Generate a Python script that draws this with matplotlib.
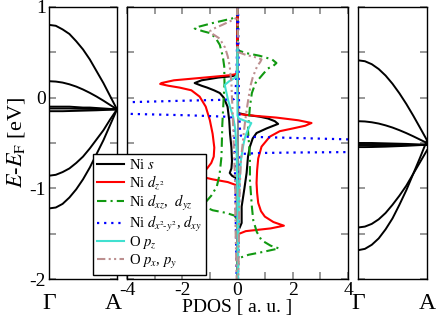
import matplotlib
matplotlib.use("Agg")
import matplotlib.pyplot as plt
import matplotlib.transforms as mtransforms
import numpy as np

plt.rcParams['font.family'] = ['Liberation Serif', 'DejaVu Serif']
plt.rcParams['mathtext.fontset'] = 'stix'
plt.rcParams['axes.unicode_minus'] = False

# ---------------- band data (left panel) ----------------
k_path = [0.0, 0.1, 0.2, 0.3, 0.4, 0.5, 0.6, 0.7, 0.8, 0.9, 1.0]
bands_left = [
    [0.80, 0.79, 0.75, 0.70, 0.62, 0.53, 0.42, 0.29, 0.16, 0.015, -0.13],
    [0.18, 0.176, 0.165, 0.146, 0.121, 0.089, 0.052, 0.011, -0.034, -0.082, -0.13],
    [-0.10, -0.10, -0.10, -0.10, -0.105, -0.11, -0.11, -0.115, -0.12, -0.125, -0.13],
    [-0.12, -0.12, -0.12, -0.12, -0.122, -0.124, -0.125, -0.126, -0.128, -0.129, -0.13],
    [-0.15, -0.15, -0.15, -0.148, -0.146, -0.144, -0.142, -0.14, -0.137, -0.134, -0.13],
    [-0.86, -0.85, -0.82, -0.78, -0.72, -0.65, -0.56, -0.46, -0.36, -0.24, -0.13],
    [-1.22, -1.21, -1.17, -1.10, -1.01, -0.90, -0.77, -0.62, -0.47, -0.30, -0.13],
]
# ---------------- band data (right panel) ----------------
bands_right = [
    [0.41, 0.40, 0.367, 0.314, 0.242, 0.152, 0.047, -0.07, -0.198, -0.333, -0.47],
    [-0.26, -0.263, -0.272, -0.286, -0.306, -0.33, -0.359, -0.391, -0.426, -0.463, -0.50],
    [-0.50, -0.50, -0.50, -0.502, -0.504, -0.506, -0.508, -0.51, -0.513, -0.516, -0.52],
    [-0.52, -0.52, -0.52, -0.52, -0.52, -0.52, -0.52, -0.52, -0.52, -0.52, -0.52],
    [-0.545, -0.545, -0.544, -0.542, -0.54, -0.537, -0.534, -0.531, -0.527, -0.523, -0.52],
    [-1.43, -1.42, -1.39, -1.34, -1.27, -1.18, -1.08, -0.97, -0.84, -0.71, -0.58],
    [-1.68, -1.665, -1.62, -1.55, -1.45, -1.33, -1.18, -1.02, -0.84, -0.66, -0.47],
]
k_labels = ['\u0393', 'A']

# ---------------- PDOS data (middle panel) ----------------
# Ni s
ni_s_dn_E = [1.0, 0.25, 0.235, 0.22, 0.19, 0.16, 0.13, 0.11, 0.08, 0.05, 0.0, -0.1, -0.25, -0.4, -0.55, -0.7, -0.78, -0.83, -0.86, -0.89, -1.0, -2.0]
ni_s_dn = [0, -0.02, -0.2, -0.7, -1.3, -1.55, -1.3, -1.1, -0.85, -0.64, -0.5, -0.36, -0.3, -0.27, -0.22, -0.2, -0.22, -0.28, -0.2, -0.03, -0.01, 0]
ni_s_up_E = [1.0, -0.17, -0.19, -0.21, -0.23, -0.26, -0.29, -0.31, -0.34, -0.39, -0.45, -0.54, -0.65, -0.83, -1.0, -1.2, -1.38, -1.43, -1.47, -2.0]
ni_s_up = [0, 0.02, 0.3, 0.8, 1.1, 1.35, 1.47, 1.3, 1.05, 0.69, 0.55, 0.45, 0.38, 0.33, 0.25, 0.15, 0.15, 0.08, 0.02, 0]
# Ni dz2
ni_dz2_dn_E = [1.0, 0.26, 0.245, 0.22, 0.19, 0.16, 0.15, 0.13, 0.11, 0.08, 0.01, -0.1, -0.25, -0.4, -0.55, -0.65, -0.72, -0.78, -0.82, -0.85, -0.875, -0.9, -0.93, -0.96, -1.1, -2.0]
ni_dz2_dn = [0, -0.02, -0.3, -1.2, -2.3, -2.75, -2.8, -2.5, -2.1, -1.67, -1.37, -1.15, -1.0, -0.9, -0.84, -0.86, -0.95, -1.1, -1.25, -1.3, -1.25, -0.9, -0.35, -0.08, -0.03, 0]
ni_dz2_up_E = [1.0, -0.18, -0.20, -0.22, -0.25, -0.28, -0.31, -0.34, -0.37, -0.43, -0.54, -0.67, -0.8, -0.94, -1.05, -1.16, -1.25, -1.31, -1.37, -1.41, -1.44, -1.47, -1.50, -1.6, -2.0]
ni_dz2_up = [0, 0.02, 0.6, 1.4, 2.2, 2.68, 2.45, 2.0, 1.53, 1.17, 0.87, 0.75, 0.71, 0.69, 0.71, 0.75, 0.85, 0.99, 1.3, 1.68, 1.2, 0.3, 0.05, 0.02, 0]
# Ni dxz, dyz
ni_dxz_dn_E = [1.0, 0.9, 0.87, 0.82, 0.78, 0.76, 0.73, 0.71, 0.66, 0.58, 0.45, 0.34, 0.15, 0.0, -0.3, -0.65, -0.85, -0.98, -1.08, -1.15, -1.2, -1.24, -1.27, -1.30, -1.35, -2.0]
ni_dxz_dn = [0, -0.02, -0.2, -0.9, -1.4, -1.55, -1.25, -1.0, -0.8, -0.64, -0.53, -0.48, -0.47, -0.5, -0.55, -0.58, -0.65, -0.75, -0.95, -1.15, -1.2, -0.9, -0.4, -0.1, -0.02, 0]
ni_dxz_up_E = [1.0, 0.52, 0.49, 0.46, 0.42, 0.38, 0.35, 0.32, 0.25, 0.16, 0.05, -0.1, -0.36, -0.65, -0.91, -1.2, -1.35, -1.48, -1.57, -1.63, -1.66, -1.70, -1.73, -1.76, -1.8, -2.0]
ni_dxz_up = [0, 0.02, 0.3, 0.8, 1.25, 1.41, 1.3, 1.1, 0.9, 0.65, 0.52, 0.45, 0.38, 0.45, 0.45, 0.52, 0.57, 0.7, 0.87, 1.2, 1.5, 0.9, 0.4, 0.12, 0.03, 0]
# Ni dx2-y2, dxy
ni_dx2_dn_E = [1.0, 0.3, 0.0, -0.015, -0.02, -0.026, -0.035, -0.05, -0.115, -0.18, -0.195, -0.205, -0.21, -0.22, -0.3, -0.6, -1.0, -2.0]
ni_dx2_dn = [0, -0.03, -0.08, -0.12, -0.17, -0.7, -2.0, -3.84, -7.0, -3.84, -1.8, -0.9, -0.46, -0.2, -0.12, -0.1, -0.08, -0.03]
ni_dx2_up_E = [1.0, 0.0, -0.3, -0.40, -0.42, -0.43, -0.44, -0.46, -0.53, -0.60, -0.605, -0.61, -0.62, -0.65, -0.8, -1.2, -2.0]
ni_dx2_up = [0.02, 0.05, 0.08, 0.1, 0.12, 0.2, 1.5, 4.0, 7.0, 4.0, 2.0, 0.8, 0.15, 0.1, 0.08, 0.05, 0.02]
# O pz
o_pz_dn_E = [0.55, 0.26, 0.22, 0.18, 0.14, 0.08, -0.03, -0.12, -0.21, -0.35, -0.6, -1.0, -2.0]
o_pz_dn = [0, -0.01, -0.08, -0.3, -0.46, -0.42, -0.34, -0.25, -0.16, -0.08, -0.03, -0.01, 0]
o_pz_up_E = [0.55, -0.2, -0.23, -0.26, -0.28, -0.31, -0.35, -0.39, -0.45, -0.54, -0.7, -1.0, -1.5, -2.0]
o_pz_up = [0.0, 0.0, 0.05, 0.3, 0.5, 0.45, 0.38, 0.33, 0.26, 0.2, 0.12, 0.06, 0.03, 0.02]
# O px, py
o_pxy_dn_E = [1.0, 0.88, 0.85, 0.80, 0.76, 0.73, 0.70, 0.65, 0.55, 0.45, 0.34, 0.16, 0.0, -0.2, -0.5, -0.8, -1.0, -1.3, -1.6, -2.0]
o_pxy_dn = [0, -0.02, -0.2, -0.55, -0.85, -1.0, -0.9, -0.65, -0.45, -0.35, -0.28, -0.22, -0.2, -0.17, -0.14, -0.1, -0.08, -0.08, -0.06, -0.03]
o_pxy_up_E = [1.0, 0.50, 0.47, 0.44, 0.42, 0.39, 0.35, 0.30, 0.22, 0.14, 0.0, -0.14, -0.3, -0.47, -0.7, -1.0, -1.5, -2.0]
o_pxy_up = [0, 0.02, 0.3, 0.7, 0.87, 0.82, 0.72, 0.65, 0.55, 0.48, 0.4, 0.33, 0.26, 0.2, 0.12, 0.08, 0.05, 0.03]

labels = ['Ni $s$', 'Ni $d_{z^2}$', 'Ni $d_{xz}$,  $d_{yz}$',
          'Ni $d_{x^2\\!\\text{-}y^2}$, $d_{xy}$', 'O $p_z$', 'O $p_x$, $p_y$']

# ---------------- figure ----------------
W, H = 436, 317
fig = plt.figure(figsize=(W / 100, H / 100), dpi=100)
bot = 1 - 279.3 / H
hgt = 272.6 / H
axL = fig.add_axes([49 / W, bot, 68 / W, hgt])
axM = fig.add_axes([127 / W, bot, 221 / W, hgt])
axR = fig.add_axes([358 / W, bot, 69 / W, hgt])

tick_kw = dict(direction='in', color='#888888', length=5, width=1.2)
yt = [-2, -1.5, -1, -0.5, 0, 0.5, 1]

for ax, bands in ((axL, bands_left), (axR, bands_right)):
    for b in bands:
        ax.plot(k_path, b, color='black', lw=1.4)
    ax.set_xlim(0, 1)
    ax.set_ylim(-2, 1)
    ax.set_xticks([0, 1])
    ax.set_xticklabels(k_labels, fontsize=17)
    ax.tick_params(axis='x', length=0, pad=10)
    ax.set_yticks(yt)
    ax.tick_params(axis='y', left=True, right=True, **tick_kw)

axL.set_yticklabels(['-2', '', '-1', '', '0', '', '1'], fontsize=14)
axL.tick_params(axis='y', pad=2)
axL.set_ylabel('$E$-$E_{\\mathrm{F}}$ [eV]', fontsize=16, labelpad=2)
axR.set_yticklabels([])

# shift the "A" label of the left panel slightly left so it sits beside "-4"
shiftA = mtransforms.ScaledTranslation(-3 / 72, 0, fig.dpi_scale_trans)
labA = axL.xaxis.get_major_ticks()[1].label1
labA.set_transform(labA.get_transform() + shiftA)

styles = [
    dict(color='black', ls='-', lw=1.5),
    dict(color='red', ls='-', lw=1.5),
    dict(color='#119911', ls=(0, (4.5, 2, 1, 2)), lw=1.5),
    dict(color='blue', ls=(0, (1, 2.2)), lw=1.6),
    dict(color='#40e0d0', ls='-', lw=1.5),
    dict(color='#bc8f8f', ls=(0, (4, 1.6, 1, 1.6, 1, 1.6)), lw=1.5),
]
series = [
    (ni_s_dn, ni_s_dn_E, ni_s_up, ni_s_up_E),
    (ni_dz2_dn, ni_dz2_dn_E, ni_dz2_up, ni_dz2_up_E),
    (ni_dxz_dn, ni_dxz_dn_E, ni_dxz_up, ni_dxz_up_E),
    (ni_dx2_dn, ni_dx2_dn_E, ni_dx2_up, ni_dx2_up_E),
    (o_pz_dn, o_pz_dn_E, o_pz_up, o_pz_up_E),
    (o_pxy_dn, o_pxy_dn_E, o_pxy_up, o_pxy_up_E),
]
axM.axvline(0, color='#777777', lw=1.2, zorder=0.5)
handles = []
for (dn, dnE, up, upE), st, lab in zip(series, styles, labels):
    h, = axM.plot(dn, dnE, label=lab, **st)
    axM.plot(up, upE, **st)
    handles.append(h)

axM.set_xlim(-4, 4)
axM.set_ylim(-2, 1)
axM.set_xticks([-4, -2, 0, 2, 4])
axM.set_xticklabels(['-4', '-2', '0', '2', '4'], fontsize=14)
axM.set_xticks([-3, -1, 1, 3], minor=True)
axM.tick_params(axis='x', which='both', top=True, bottom=True, pad=2, **tick_kw)
axM.set_yticks(yt)
axM.set_yticklabels([])
axM.tick_params(axis='y', left=True, right=True, **tick_kw)
axM.set_xlabel('PDOS [ a. u. ]', fontsize=14, labelpad=0)

for ax in (axL, axM, axR):
    for s in ax.spines.values():
        s.set_linewidth(1.0)

leg = fig.legend(handles=handles, labels=labels, loc='lower left',
                 bbox_to_anchor=(93 / W, 1 - 275 / H), borderaxespad=0,
                 fontsize=10.5, frameon=True, fancybox=False, framealpha=1,
                 edgecolor='black', handlelength=1.8, handletextpad=0.35,
                 labelspacing=0.08, borderpad=0.3)
leg.get_frame().set_linewidth(1.0)

fig.savefig('out.png', dpi=100)
